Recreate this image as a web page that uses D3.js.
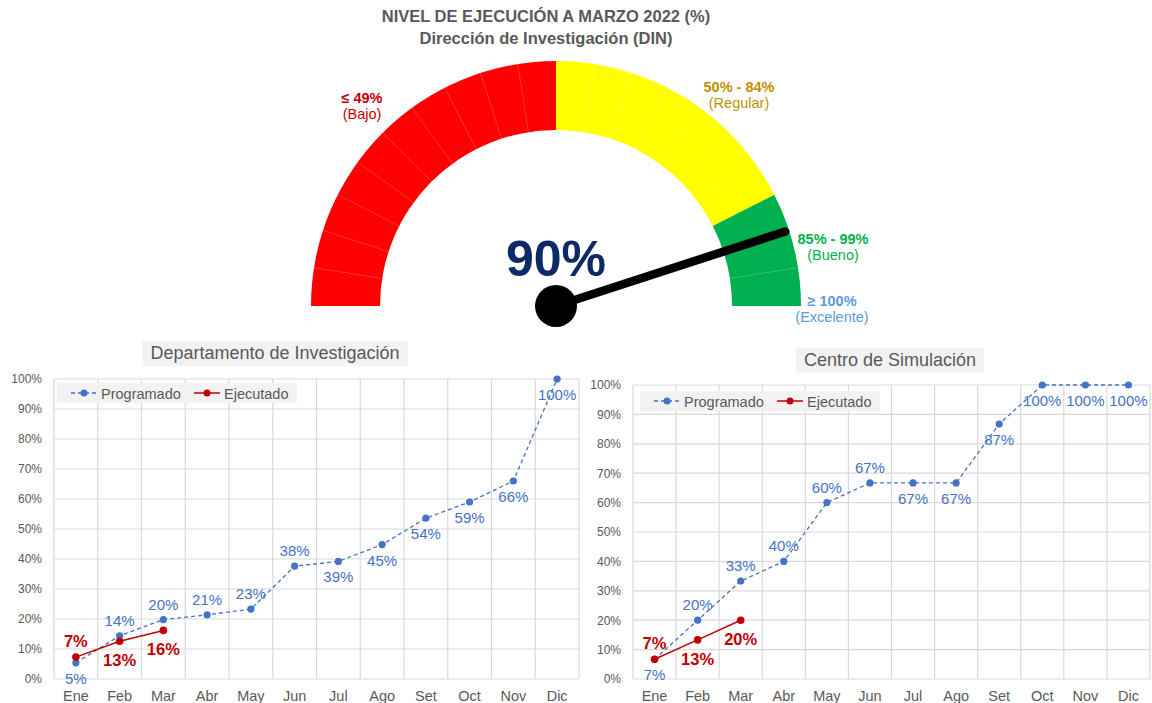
<!DOCTYPE html>
<html>
<head>
<meta charset="utf-8">
<script src="https://cdn.jsdelivr.net/npm/d3@7"></script>
<style>
  body { margin: 0; background: #fff; }
  text { font-family: "Liberation Sans", Arial, sans-serif; }
</style>
</head>
<body>
<div id="chart"></div>
<script>
const width = 1152;
const height = 703;

// ---- data ----
const gaugeValue = 90;
const gaugeMax = 100;
const bandSegments = [10, 7, 3];          // Bajo, Regular, Bueno (20 segments in the half circle)
const bandRanges = ["≤ 49%", "50% - 84%", "85% - 99%", "≥ 100%"];
const bandNames = ["(Bajo)", "(Regular)", "(Bueno)", "(Excelente)"];

const months = ["Ene", "Feb", "Mar", "Abr", "May", "Jun", "Jul", "Ago", "Set", "Oct", "Nov", "Dic"];
const yTicks = [0, 10, 20, 30, 40, 50, 60, 70, 80, 90, 100];
const seriesNames = ["Programado", "Ejecutado"];

const dinProgramado = [5.4, 14.4, 19.8, 21.4, 23.3, 37.6, 39.2, 44.8, 53.6, 59, 66, 100];
const dinEjecutado = [7.3, 12.6, 16.2];

const csProgramado = [6.7, 20, 33.3, 40, 60, 66.7, 66.7, 66.7, 86.7, 100, 100, 100];
const csEjecutado = [6.7, 13.3, 20];

// label side for each point (layout only)
const progSide = ["below", "above", "above", "above", "above", "above", "below", "below", "below", "below", "below", "below"];
const ejecSide = ["above", "below", "below"];

// ---- styles ----
const bandColors = ["#ff0000", "#ffff00", "#00b050"];
const bandTextColors = ["#c00000", "#bf9000", "#00b050", "#5b9bd5"];
const gray = "#595959";
const gridColor = "#d9d9d9";
const progColor = "#4472c4";
const ejecColor = "#c00000";

const svg = d3.select("#chart")
    .append("svg")
    .attr("width", width)
    .attr("height", height)
    .style("background-color", "#fff");

// ---- title ----
svg.append("text")
    .attr("x", 546).attr("y", 22)
    .attr("text-anchor", "middle")
    .attr("font-size", "16.5px").attr("font-weight", "bold")
    .attr("fill", gray)
    .text("NIVEL DE EJECUCIÓN A MARZO 2022 (%)");
svg.append("text")
    .attr("x", 546).attr("y", 44)
    .attr("text-anchor", "middle")
    .attr("font-size", "16.5px").attr("font-weight", "bold")
    .attr("fill", gray)
    .text("Dirección de Investigación (DIN)");

// ---- gauge ----
const gcx = 556, gcy = 306, rOuter = 245, rInner = 176;
const gauge = svg.append("g").attr("transform", `translate(${gcx},${gcy})`);

const totalSeg = d3.sum(bandSegments);
const segAngle = d3.scaleLinear().domain([0, totalSeg]).range([-Math.PI / 2, Math.PI / 2]);
const valueAngle = d3.scaleLinear().domain([0, gaugeMax]).range([-Math.PI / 2, Math.PI / 2]);

const segs = [];
let offset = 0;
bandSegments.forEach((n, b) => {
    for (let k = 0; k < n; k++) segs.push({band: b, i: offset + k});
    offset += n;
});

const arc = d3.arc().innerRadius(rInner).outerRadius(rOuter);

// one solid arc per band, then faint segment dividers
let start = 0;
bandSegments.forEach((n, b) => {
    gauge.append("path")
        .attr("d", arc({startAngle: segAngle(start), endAngle: segAngle(start + n)}))
        .attr("fill", bandColors[b]);
    start += n;
});

gauge.selectAll("line.div")
    .data(segs.filter((d, i) => i > 0 && segs[i - 1].band === d.band))
    .join("line")
    .attr("class", "div")
    .attr("x1", d => rInner * Math.sin(segAngle(d.i)))
    .attr("y1", d => -rInner * Math.cos(segAngle(d.i)))
    .attr("x2", d => rOuter * Math.sin(segAngle(d.i)))
    .attr("y2", d => -rOuter * Math.cos(segAngle(d.i)))
    .attr("stroke", "#fff")
    .attr("stroke-opacity", 0.25)
    .attr("stroke-width", 0.8);

// band labels
const bandLabelPos = [[362, 98], [739, 87], [833, 239], [832, 301]];
bandRanges.forEach((t, i) => {
    const [lx, ly] = bandLabelPos[i];
    svg.append("text")
        .attr("x", lx).attr("y", ly + 5)
        .attr("text-anchor", "middle")
        .attr("font-size", "14.5px").attr("font-weight", "bold")
        .attr("fill", bandTextColors[i])
        .text(t);
    svg.append("text")
        .attr("x", lx).attr("y", ly + 21)
        .attr("text-anchor", "middle")
        .attr("font-size", "14.5px")
        .attr("fill", bandTextColors[i])
        .text(bandNames[i]);
});

// value text
svg.append("text")
    .attr("x", gcx).attr("y", 276)
    .attr("text-anchor", "middle")
    .attr("font-size", "50px").attr("font-weight", "bold")
    .attr("fill", "#0d2a66")
    .text(gaugeValue + "%");

// needle
const na = valueAngle(gaugeValue);
gauge.append("line")
    .attr("x1", 0).attr("y1", 0)
    .attr("x2", (rOuter - 4) * Math.sin(na))
    .attr("y2", -(rOuter - 4) * Math.cos(na))
    .attr("stroke", "#000")
    .attr("stroke-width", 8.5)
    .attr("stroke-linecap", "round");
gauge.append("circle")
    .attr("r", 21)
    .attr("fill", "#000");

// ---- line charts ----
function drawChart(cfg) {
    const x = d3.scaleBand().domain(months).range([cfg.left, cfg.right]);
    const y = d3.scaleLinear().domain([0, 100]).range([cfg.bottom, cfg.top]);
    const cx = m => x(m) + x.bandwidth() / 2;
    const g = svg.append("g");

    // title with grey box
    const title = g.append("text")
        .attr("x", cfg.titleX).attr("y", cfg.titleY)
        .attr("text-anchor", "middle")
        .attr("font-size", "18px")
        .attr("fill", gray)
        .text(cfg.title);
    const tb = title.node().getBBox();
    g.insert("rect", "text")
        .attr("x", tb.x - 8).attr("y", cfg.titleY - 18)
        .attr("width", tb.width + 16).attr("height", 25)
        .attr("fill", "#f2f2f2");

    // grid
    g.selectAll("line.h")
        .data(yTicks)
        .join("line")
        .attr("x1", cfg.left).attr("x2", cfg.right)
        .attr("y1", d => y(d)).attr("y2", d => y(d))
        .attr("stroke", gridColor).attr("stroke-width", 1.2);
    g.selectAll("line.v")
        .data(months.concat(["end"]))
        .join("line")
        .attr("x1", d => d === "end" ? cfg.right : x(d))
        .attr("x2", d => d === "end" ? cfg.right : x(d))
        .attr("y1", cfg.top).attr("y2", cfg.bottom)
        .attr("stroke", gridColor).attr("stroke-width", 1.2);

    // axes
    const ya = g.append("g")
        .attr("transform", `translate(${cfg.left},0)`)
        .call(d3.axisLeft(y).tickValues(yTicks).tickSize(0).tickPadding(12).tickFormat(d => d + "%"));
    ya.select(".domain").remove();
    ya.selectAll("text").attr("font-size", "12px").attr("fill", gray)
        .style("font-family", "'Liberation Sans', Arial, sans-serif");

    const xa = g.append("g")
        .attr("transform", `translate(0,${cfg.bottom})`)
        .call(d3.axisBottom(x).tickSize(0).tickPadding(12));
    xa.select(".domain").remove();
    xa.selectAll("text").attr("font-size", "14.5px").attr("fill", gray)
        .style("font-family", "'Liberation Sans', Arial, sans-serif");

    // legend
    const lg = g.append("g").attr("transform", `translate(${cfg.left + cfg.legendDx},${cfg.top + cfg.legendDy})`);
    lg.append("rect").attr("width", 240).attr("height", 20).attr("fill", "#f2f2f2");
    const items = [
        {name: seriesNames[0], color: progColor, dash: "4,3", x0: 14},
        {name: seriesNames[1], color: ejecColor, dash: null, x0: 137}
    ];
    items.forEach(it => {
        lg.append("line")
            .attr("x1", it.x0).attr("x2", it.x0 + 26)
            .attr("y1", 10).attr("y2", 10)
            .attr("stroke", it.color).attr("stroke-width", 1.5)
            .attr("stroke-dasharray", it.dash);
        lg.append("circle").attr("cx", it.x0 + 13).attr("cy", 10).attr("r", 3.5).attr("fill", it.color);
        lg.append("text")
            .attr("x", it.x0 + 30).attr("y", 15.5)
            .attr("font-size", "14.5px").attr("fill", gray)
            .text(it.name);
    });

    const line = d3.line().x((d, i) => cx(months[i])).y(d => y(d));

    // Programado
    g.append("path")
        .datum(cfg.prog)
        .attr("d", line)
        .attr("fill", "none")
        .attr("stroke", progColor).attr("stroke-width", 1.3)
        .attr("stroke-dasharray", "4,3");
    g.selectAll("circle.prog")
        .data(cfg.prog)
        .join("circle")
        .attr("class", "prog")
        .attr("cx", (d, i) => cx(months[i])).attr("cy", d => y(d))
        .attr("r", 3.6).attr("fill", progColor);
    g.selectAll("text.prog")
        .data(cfg.prog)
        .join("text")
        .attr("class", "prog")
        .attr("x", (d, i) => cx(months[i]))
        .attr("y", (d, i) => y(d) + (progSide[i] === "above" ? -10 : 21))
        .attr("text-anchor", "middle")
        .attr("font-size", "15px").attr("fill", progColor)
        .text(d => Math.round(d) + "%");

    // Ejecutado
    g.append("path")
        .datum(cfg.ejec)
        .attr("d", line)
        .attr("fill", "none")
        .attr("stroke", ejecColor).attr("stroke-width", 1.5);
    g.selectAll("circle.ejec")
        .data(cfg.ejec)
        .join("circle")
        .attr("class", "ejec")
        .attr("cx", (d, i) => cx(months[i])).attr("cy", d => y(d))
        .attr("r", 3.8).attr("fill", ejecColor);
    g.selectAll("text.ejec")
        .data(cfg.ejec)
        .join("text")
        .attr("class", "ejec")
        .attr("x", (d, i) => cx(months[i]))
        .attr("y", (d, i) => y(d) + (ejecSide[i] === "above" ? -10 : 25))
        .attr("text-anchor", "middle")
        .attr("font-size", "16.5px").attr("font-weight", "bold").attr("fill", ejecColor)
        .text(d => Math.round(d) + "%");
}

drawChart({
    title: "Departamento de Investigación",
    titleX: 275, titleY: 359,
    left: 54, right: 579, top: 379, bottom: 679,
    legendDx: 3, legendDy: 4,
    prog: dinProgramado, ejec: dinEjecutado
});

drawChart({
    title: "Centro de Simulación",
    titleX: 890, titleY: 366,
    left: 633, right: 1150, top: 385, bottom: 679,
    legendDx: 7, legendDy: 6,
    prog: csProgramado, ejec: csEjecutado
});
</script>
</body>
</html>
